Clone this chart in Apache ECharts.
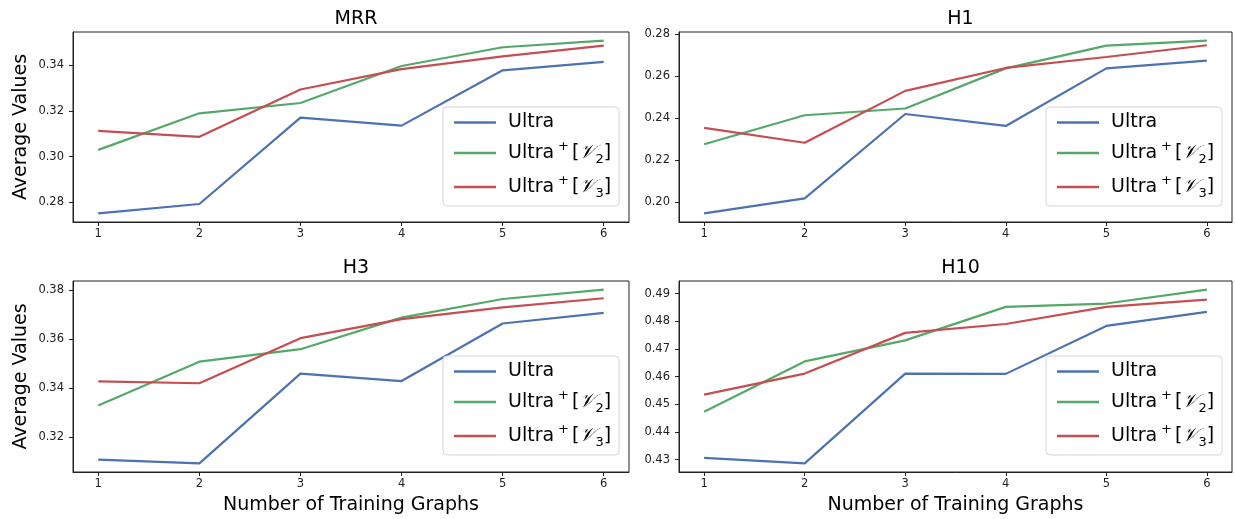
<!DOCTYPE html>
<html><head><meta charset="utf-8">
<script src="https://cdn.jsdelivr.net/npm/echarts@6/dist/echarts.min.js"></script>
<style>html,body{margin:0;padding:0;background:#fff}#c{width:1235px;height:519px}</style>
</head><body><div id="c"></div>
<script>
const trainingGraphs = [1, 2, 3, 4, 5, 6];
const seriesNames = ['Ultra', 'Ultra+[V2]', 'Ultra+[V3]'];
const panelTitles = ['MRR', 'H1', 'H3', 'H10'];

const mrrUltra = [0.2752, 0.2793, 0.3171, 0.3136, 0.3378, 0.3415];
const mrrV2    = [0.3030, 0.3190, 0.3235, 0.3397, 0.3479, 0.3508];
const mrrV3    = [0.3113, 0.3087, 0.3294, 0.3383, 0.3439, 0.3486];

const h1Ultra = [0.1948, 0.2019, 0.2421, 0.2364, 0.2638, 0.2675];
const h1V2    = [0.2277, 0.2415, 0.2447, 0.2638, 0.2746, 0.2770];
const h1V3    = [0.2355, 0.2284, 0.2531, 0.2640, 0.2692, 0.2748];

const h3Ultra = [0.3107, 0.3092, 0.3458, 0.3428, 0.3663, 0.3706];
const h3V2    = [0.3328, 0.3507, 0.3558, 0.3687, 0.3763, 0.3801];
const h3V3    = [0.3427, 0.3419, 0.3603, 0.3681, 0.3729, 0.3766];

const h10Ultra = [0.4307, 0.4287, 0.4611, 0.4610, 0.4783, 0.4834];
const h10V2    = [0.4473, 0.4655, 0.4731, 0.4852, 0.4864, 0.4914];
const h10V3    = [0.4535, 0.4611, 0.4758, 0.4790, 0.4852, 0.4878];

const yTicksMRR = [0.28, 0.30, 0.32, 0.34];
const yTicksH1  = [0.20, 0.22, 0.24, 0.26, 0.28];
const yTicksH3  = [0.32, 0.34, 0.36, 0.38];
const yTicksH10 = [0.43, 0.44, 0.45, 0.46, 0.47, 0.48, 0.49];

const panelData = [
  [mrrUltra, mrrV2, mrrV3],
  [h1Ultra, h1V2, h1V3],
  [h3Ultra, h3V2, h3V3],
  [h10Ultra, h10V2, h10V3]
];
const panelTicks = [yTicksMRR, yTicksH1, yTicksH3, yTicksH10];

const colors = ['#4C72B0', '#55A868', '#C44E52'];
const FONT = 'DejaVu Sans';
const grids = [
  {left: 73, top: 32, width: 556, height: 190},
  {left: 679, top: 32, width: 553, height: 190},
  {left: 73, top: 281, width: 556, height: 191},
  {left: 679, top: 281, width: 553, height: 191}
];

function paddedRange(arrs) {
  const all = [].concat(...arrs);
  const lo = Math.min(...all), hi = Math.max(...all);
  const m = (hi - lo) * 0.05;
  return [lo - m, hi + m];
}

const option = {
  animation: false,
  backgroundColor: '#fff',
  title: panelTitles.map((t, i) => ({
    text: t,
    left: grids[i].left + grids[i].width / 2,
    top: grids[i].top - 27,
    textAlign: 'center',
    textStyle: {fontFamily: FONT, fontSize: 19, fontWeight: 'normal', color: '#000'}
  })),
  grid: grids.map(g => Object.assign({show: true, borderColor: '#222', borderWidth: 1, backgroundColor: 'transparent'}, g)),
  xAxis: grids.map((g, i) => ({
    type: 'value', gridIndex: i, min: 0.75, max: 6.25,
    name: i >= 2 ? 'Number of Training Graphs' : '',
    nameLocation: 'middle', nameGap: 24,
    nameTextStyle: {fontFamily: FONT, fontSize: 19, color: '#000'},
    axisLine: {show: true, lineStyle: {color: '#222', width: 1}},
    axisTick: {show: true, length: 4, lineStyle: {color: '#222'}, customValues: trainingGraphs},
    axisLabel: {fontFamily: FONT, fontSize: 11.5, color: '#222', margin: 6, customValues: trainingGraphs},
    splitLine: {show: false}
  })),
  yAxis: grids.map((g, i) => {
    const r = paddedRange(panelData[i]);
    return {
      type: 'value', gridIndex: i, min: r[0], max: r[1],
      name: (i % 2 === 0) ? 'Average Values' : '',
      nameLocation: 'middle', nameGap: 42, nameRotate: 90,
      nameTextStyle: {fontFamily: FONT, fontSize: 19, color: '#000'},
      axisLine: {show: true, lineStyle: {color: '#222', width: 1}},
      axisTick: {show: true, length: 4, lineStyle: {color: '#222'}, customValues: panelTicks[i]},
      axisLabel: {fontFamily: FONT, fontSize: 11.5, color: '#222', margin: 9,
        customValues: panelTicks[i], formatter: v => v.toFixed(2)},
      splitLine: {show: false}
    };
  }),
  legend: grids.map((g, i) => ({
    orient: 'vertical',
    left: g.left + g.width - 186,
    top: g.top + 75,
    data: seriesNames,
    icon: 'rect',
    itemWidth: 42, itemHeight: 2.5, itemGap: 8,
    padding: [6, 8, 6, 11],
    backgroundColor: 'rgba(255,255,255,0.85)',
    borderColor: '#d5d5d5', borderWidth: 1, borderRadius: 4,
    selectedMode: false,
    formatter: function (name) {
      if (name === 'Ultra') return '{m|Ultra}';
      const k = name.indexOf('V2') >= 0 ? '2' : '3';
      return '{m|Ultra}{sup|+}{m|[}{cal|\uD835\uDCB1}{sub|' + k + '}{m|]}';
    },
    textStyle: {
      fontFamily: FONT, fontSize: 19, color: '#000', padding: [0, 0, 0, 7],
      rich: {
        m: {fontFamily: FONT, fontSize: 19, color: '#000', lineHeight: 26},
        sup: {fontFamily: FONT, fontSize: 13, color: '#000', lineHeight: 13, verticalAlign: 'top', padding: [0, 3, 0, 4]},
        cal: {fontFamily: 'DejaVu Serif', fontSize: 19, color: '#000', lineHeight: 26, fontStyle: 'italic'},
        sub: {fontFamily: FONT, fontSize: 13, color: '#000', lineHeight: 13, verticalAlign: 'bottom'}
      }
    }
  })),
  series: []
};

panelData.forEach((arrs, gi) => {
  arrs.forEach((vals, si) => {
    option.series.push({
      type: 'line', name: seriesNames[si],
      xAxisIndex: gi, yAxisIndex: gi,
      data: trainingGraphs.map((x, k) => [x, vals[k]]),
      symbol: 'none', showSymbol: false,
      lineStyle: {color: colors[si], width: 2.2},
      itemStyle: {color: colors[si]},
      z: 2
    });
  });
});

const chart = echarts.init(document.getElementById('c'), null, {renderer: 'canvas'});
chart.setOption(option);
</script></body></html>
